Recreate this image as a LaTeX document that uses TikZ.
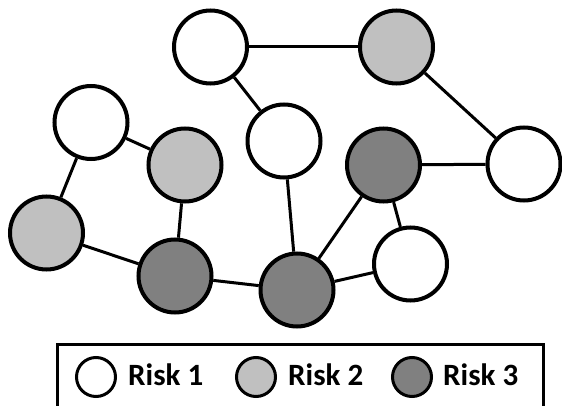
\documentclass[tikz,border=0pt]{standalone}
\usepackage{fontspec}
\setmainfont{Carlito}
\definecolor{riskone}{RGB}{255,255,255}
\definecolor{risktwo}{RGB}{192,192,192}
\definecolor{riskthree}{RGB}{128,128,128}
\tikzset{
  risk/.style={circle, draw=black, line width=4pt, minimum size=73pt, inner sep=0pt},
  rone/.style={risk, fill=riskone},
  rtwo/.style={risk, fill=risktwo},
  rthree/.style={risk, fill=riskthree},
  keydot/.style={circle, draw=black, line width=3pt, minimum size=39pt, inner sep=0pt},
  link/.style={line width=3pt, draw=black},
  keytext/.style={anchor=base west, inner sep=0pt, font=\fontsize{31pt}{31pt}\selectfont\bfseries}
}
\begin{document}
\begin{tikzpicture}[x=1pt, y=-1pt]
  \useasboundingbox (0,0) rectangle (562,406);

  % network nodes
  \node[rone]   (n1)  at (210.5,47)  {};
  \node[rtwo]   (n2)  at (396.5,47)  {};
  \node[rone]   (n3)  at (91,122.5)  {};
  \node[rtwo]   (n4)  at (185,165)   {};
  \node[rone]   (n5)  at (284,141)   {};
  \node[rthree] (n6)  at (383.5,165) {};
  \node[rone]   (n7)  at (524,164)   {};
  \node[rtwo]   (n8)  at (46.5,233)  {};
  \node[rthree] (n9)  at (175,276)   {};
  \node[rthree] (n10) at (297,290)   {};
  \node[rone]   (n11) at (410.5,264) {};

  % links
  \draw[link] (n1) -- (n2);
  \draw[link] (n1) -- (n5);
  \draw[link] (n2) -- (n7);
  \draw[link] (n3) -- (n4);
  \draw[link] (n3) -- (n8);
  \draw[link] (n4) -- (n9);
  \draw[link] (n8) -- (n9);
  \draw[link] (n9) -- (n10);
  \draw[link] (n5) -- (n10);
  \draw[link] (n6) -- (n7);
  \draw[link] (n6) -- (n10);
  \draw[link] (n6) -- (n11);
  \draw[link] (n10) -- (n11);

  % legend frame (open at the bottom edge)
  \coordinate (fbl) at (57,406);
  \coordinate (ftl) at (57,344);
  \coordinate (ftr) at (543,344);
  \coordinate (fbr) at (543,406);
  \draw[line width=3pt] (fbl) -- (ftl) -- (ftr) -- (fbr);

  % legend entries
  \node[keydot, fill=riskone]   (k1) at (96,377)  {};
  \node[keytext] (t1) at (128,385) {Risk 1};
  \node[keydot, fill=risktwo]   (k2) at (256,377) {};
  \node[keytext] (t2) at (288,385) {Risk 2};
  \node[keydot, fill=riskthree] (k3) at (412,377) {};
  \node[keytext] (t3) at (443,385) {Risk 3};
\end{tikzpicture}
\end{document}
